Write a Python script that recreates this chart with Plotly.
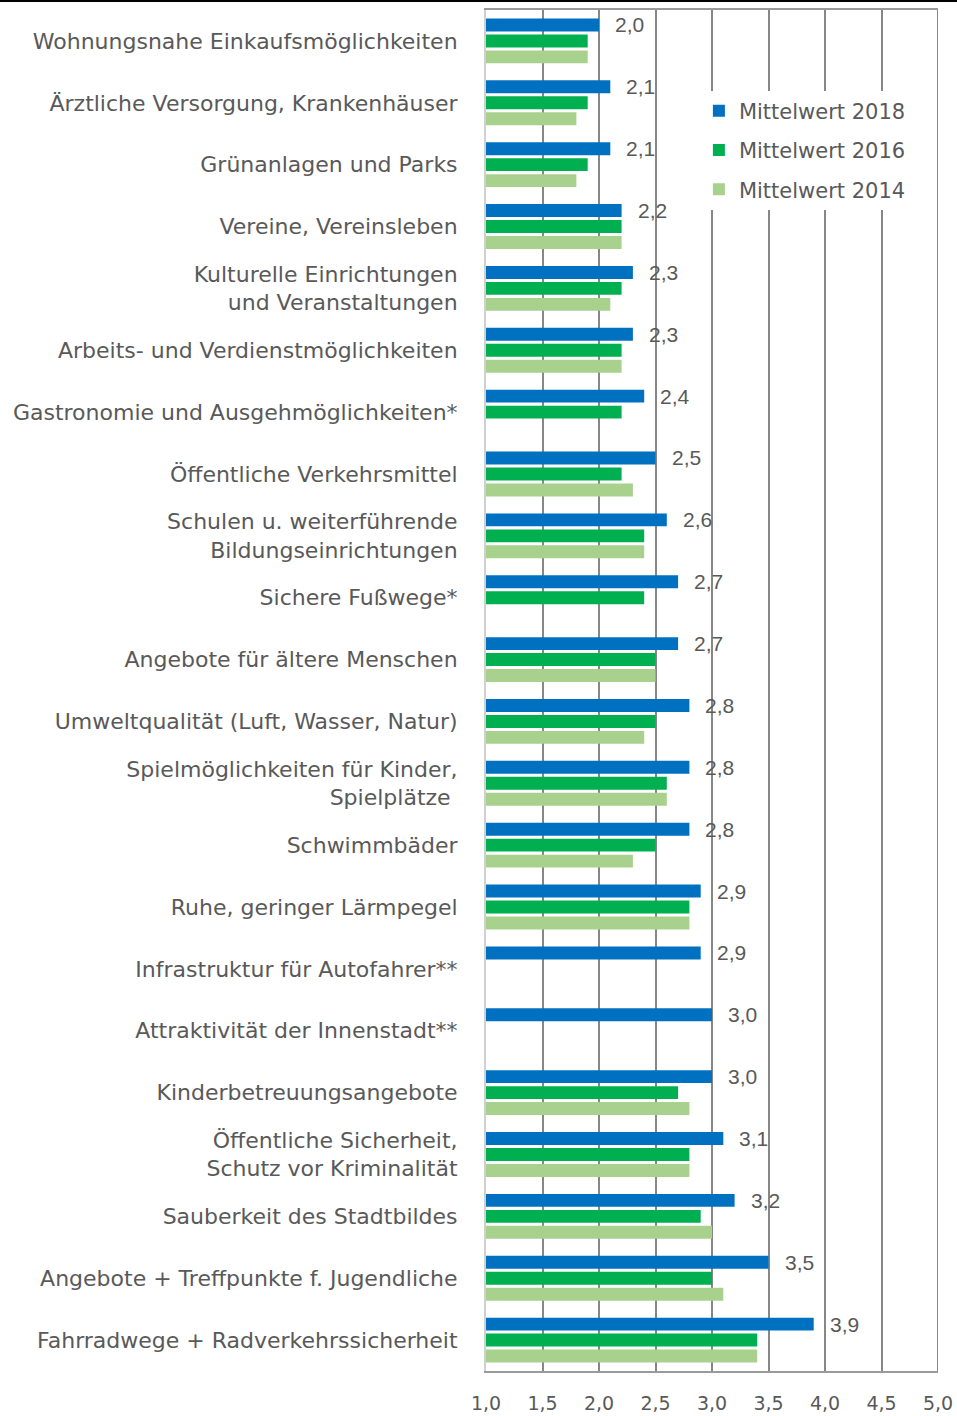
import plotly.graph_objects as go

categories = [
    "Wohnungsnahe Einkaufsmöglichkeiten",
    "Ärztliche Versorgung, Krankenhäuser",
    "Grünanlagen und Parks",
    "Vereine, Vereinsleben",
    "Kulturelle Einrichtungen<br>und Veranstaltungen",
    "Arbeits- und Verdienstmöglichkeiten",
    "Gastronomie und Ausgehmöglichkeiten*",
    "Öffentliche Verkehrsmittel",
    "Schulen u. weiterführende<br>Bildungseinrichtungen",
    "Sichere Fußwege*",
    "Angebote für ältere Menschen",
    "Umweltqualität (Luft, Wasser, Natur)",
    "Spielmöglichkeiten für Kinder,<br>Spielplätze ",
    "Schwimmbäder",
    "Ruhe, geringer Lärmpegel",
    "Infrastruktur für Autofahrer**",
    "Attraktivität der Innenstadt**",
    "Kinderbetreuungsangebote",
    "Öffentliche Sicherheit,<br>Schutz vor Kriminalität",
    "Sauberkeit des Stadtbildes",
    "Angebote + Treffpunkte f. Jugendliche",
    "Fahrradwege + Radverkehrssicherheit",
]

mittelwert_2018 = [2.0, 2.1, 2.1, 2.2, 2.3, 2.3, 2.4, 2.5, 2.6, 2.7, 2.7,
                   2.8, 2.8, 2.8, 2.9, 2.9, 3.0, 3.0, 3.1, 3.2, 3.5, 3.9]
mittelwert_2016 = [1.9, 1.9, 1.9, 2.2, 2.2, 2.2, 2.2, 2.2, 2.4, 2.4, 2.5,
                   2.5, 2.6, 2.5, 2.8, None, None, 2.7, 2.8, 2.9, 3.0, 3.4]
mittelwert_2014 = [1.9, 1.8, 1.8, 2.2, 2.1, 2.2, None, 2.3, 2.4, None, 2.5,
                   2.4, 2.6, 2.3, 2.8, None, None, 2.8, 2.8, 3.0, 3.1, 3.4]

series = [
    ("Mittelwert 2018", mittelwert_2018, "#0070C0"),
    ("Mittelwert 2016", mittelwert_2016, "#00B050"),
    ("Mittelwert 2014", mittelwert_2014, "#A9D18E"),
]

TEXT = "#595959"
FONT = "DejaVu Sans"

fig = go.Figure()
for name, vals, col in series:
    fig.add_trace(go.Bar(
        x=vals, y=categories, orientation="h", name=name,
        marker=dict(color=col, line=dict(width=0)),
        legendgroup=name,
    ))

for cat, v in zip(categories, mittelwert_2018):
    fig.add_annotation(
        x=v, y=cat, xref="x", yref="y",
        text=f"{v:.1f}".replace(".", ","),
        showarrow=False, xanchor="left", yanchor="middle",
        xshift=14, yshift=16,
        font=dict(family="Liberation Sans", size=21, color=TEXT),
    )

fig.update_layout(
    width=957, height=1416,
    margin=dict(l=486, r=19, t=10, b=45, autoexpand=False),
    paper_bgcolor="white", plot_bgcolor="white",
    barmode="group", bargap=0.226, bargroupgap=0.19,
    separators=",.",
    showlegend=True,
    legend=dict(
        x=0.471, y=0.9408, xanchor="left", yanchor="top",
        bgcolor="white", borderwidth=0,
        font=dict(family=FONT, size=21, color=TEXT),
        traceorder="grouped", tracegroupgap=9,
    ),
    xaxis=dict(
        range=[1, 5], dtick=0.5, tick0=1, tickformat=".1f",
        showgrid=True, gridcolor="#878787", gridwidth=2,
        zeroline=False, showline=True, mirror=True,
        linecolor="#9a9a9a", linewidth=2, automargin=False,
        tickfont=dict(family=FONT, size=19, color=TEXT),
        ticks="", ticklabelstandoff=14,
    ),
    yaxis=dict(
        autorange="reversed", showgrid=False, zeroline=False,
        showline=True, linecolor="#d0d0d0", linewidth=2, automargin=False,
        tickfont=dict(family=FONT, size=22, color=TEXT),
        ticks="", ticklabelstandoff=22,
    ),
    shapes=[
        dict(type="line", xref="x", yref="paper", x0=5, x1=5, y0=0, y1=1,
             line=dict(color="#878787", width=2)),
        dict(type="line", xref="paper", yref="paper", x0=-1.08, x1=1.05,
             y0=1.0066, y1=1.0066, line=dict(color="black", width=2)),
    ],
)

fig.write_html("out.html", config={"displayModeBar": False},
               post_script="document.body.style.margin='0';")
